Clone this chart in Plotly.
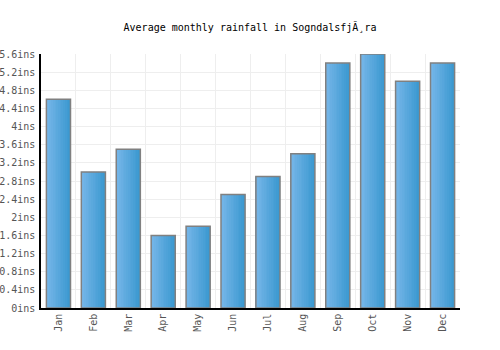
import plotly.graph_objects as go

months = ["Jan", "Feb", "Mar", "Apr", "May", "Jun", "Jul", "Aug", "Sep", "Oct", "Nov", "Dec"]
rainfall = [4.6, 3.0, 3.5, 1.6, 1.8, 2.5, 2.9, 3.4, 5.4, 5.6, 5.0, 5.4]
title = "Average monthly rainfall in SogndalsfjĂ¸ra"

font = "DejaVu Sans Mono"
bar_w = 0.69
n_slices = 14
c0 = (0x76, 0xb6, 0xe9)
c1 = (0x3c, 0x99, 0xd0)

fig = go.Figure()
sw = bar_w / n_slices
for i in range(n_slices):
    t = i / (n_slices - 1)
    col = "rgb(%d,%d,%d)" % tuple(round(a + (b - a) * t) for a, b in zip(c0, c1))
    fig.add_trace(go.Bar(
        x=months, y=rainfall, width=sw * 1.05, offset=-bar_w / 2 + i * sw,
        marker=dict(color=col, line=dict(width=0)), hoverinfo="skip",
    ))
fig.add_trace(go.Bar(
    x=months, y=rainfall, width=bar_w, offset=-bar_w / 2,
    marker=dict(color="rgba(0,0,0,0)", line=dict(color="#808080", width=1.5)),
))

fig.update_layout(
    width=500, height=350,
    margin=dict(l=41, r=40, t=54, b=42),
    paper_bgcolor="white", plot_bgcolor="white",
    title=dict(text=title, x=0.5, xanchor="center", y=1 - 27/350, yanchor="middle",
               font=dict(family=font, size=10, color="#000")),
    showlegend=False,
    barmode="overlay",
)
fig.update_xaxes(
    type="category", tickson="boundaries", showgrid=True, gridcolor="#eeeeee", gridwidth=1,
    showline=True, linecolor="#000", linewidth=1.5, tickangle=-90, ticks="",
    tickfont=dict(family=font, size=10, color="#555"), range=[-0.5, 11.5], automargin=False,
)
fig.update_yaxes(
    range=[0, 5.6], dtick=0.4, tick0=0, ticksuffix="ins", showgrid=True, gridcolor="#eeeeee",
    showline=True, linecolor="#000", linewidth=1.5, zeroline=False, ticks="",
    tickfont=dict(family=font, size=10, color="#555"), automargin=False, ticklabelstandoff=2,
)

fig.write_html("out.html")
